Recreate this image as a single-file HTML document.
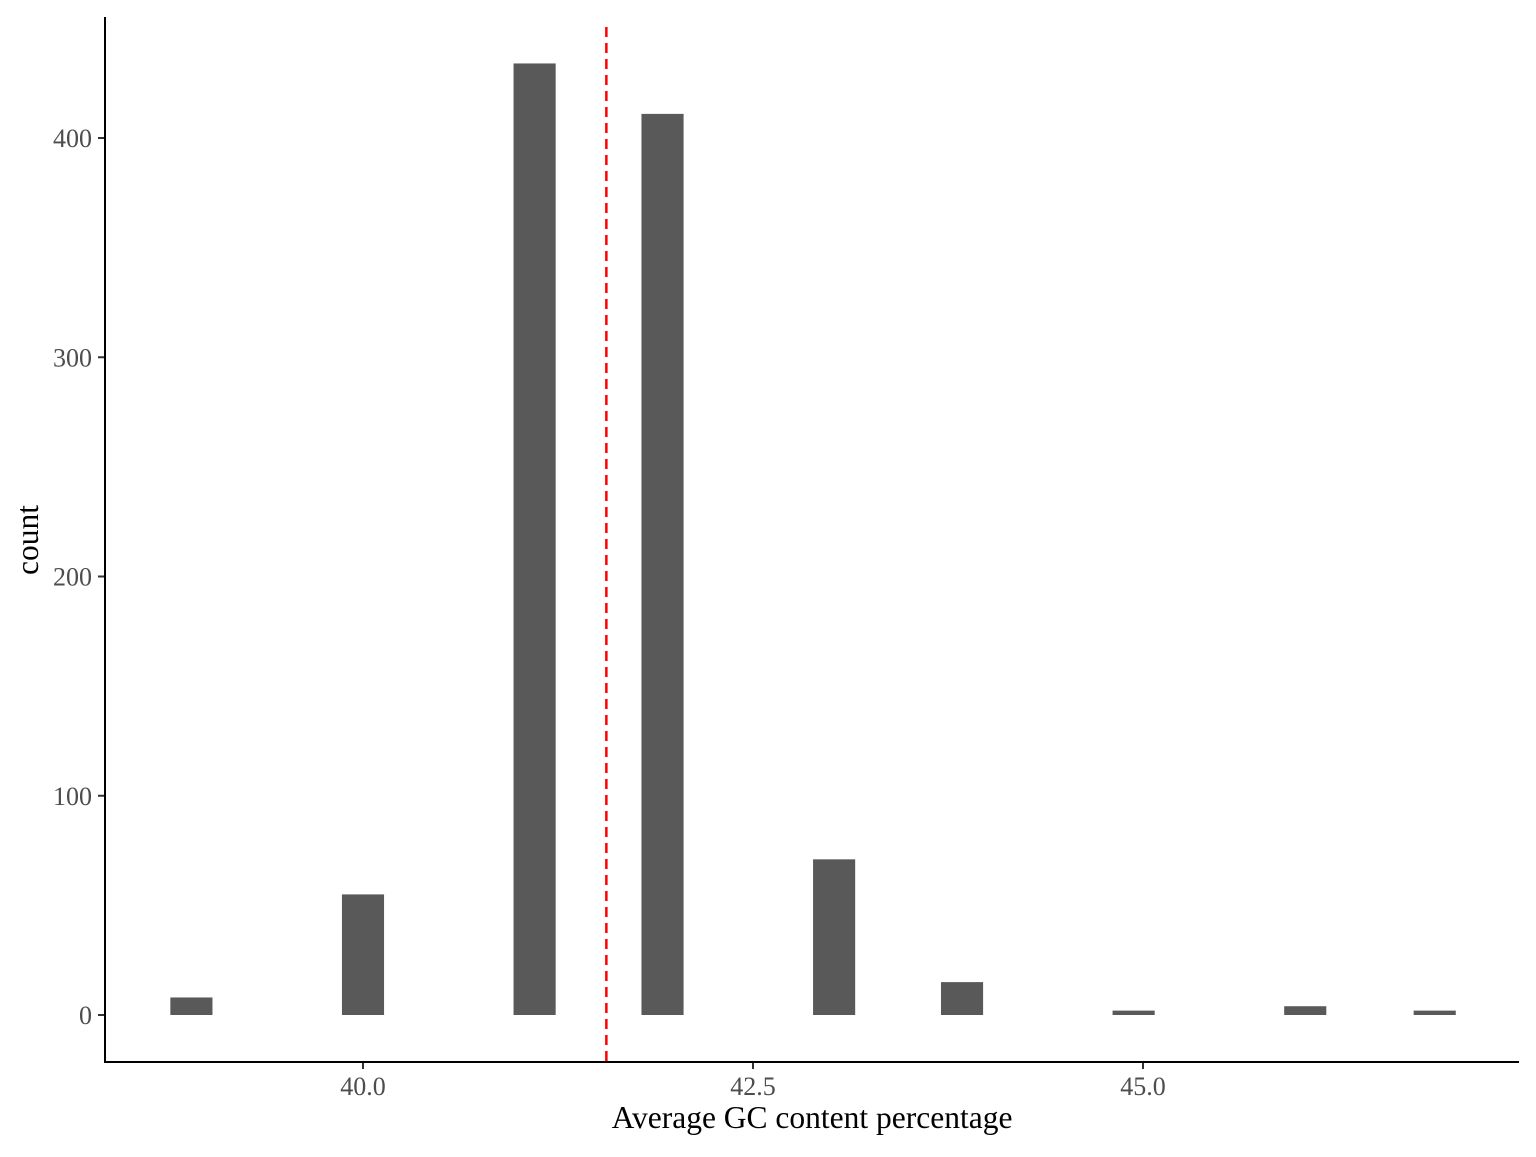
<!DOCTYPE html>
<html><head><meta charset="utf-8"><style>
html,body{margin:0;padding:0;background:#fff;}
svg text{font-family:"Liberation Serif",serif;}
</style></head><body>
<svg id="chart" width="1536" height="1152" xmlns="http://www.w3.org/2000/svg">
<g id="bars"></g>
<g id="xticks"></g>
<g id="yticks"></g>
<line x1="105" y1="17" x2="105" y2="1062" stroke="#000" stroke-width="2"/>
<line x1="104" y1="1062" x2="1519" y2="1062" stroke="#000" stroke-width="2"/>
<text x="812" y="1128" font-size="31.5" text-anchor="middle">Average GC content percentage</text>
<text transform="translate(38,540) rotate(-90)" font-size="31.5" text-anchor="middle">count</text>
</svg>
<script>
const binCenters = [38.9, 40.0, 41.1, 41.92, 43.02, 43.84, 44.94, 46.04, 46.87];
const counts = [8, 55, 434, 411, 71, 15, 2, 4, 2];
const xTickValues = [40.0, 42.5, 45.0];
const xTickLabels = ["40.0", "42.5", "45.0"];
const yTickValues = [0, 100, 200, 300, 400];
const meanValue = 41.56;
const binWidth = 0.27;

const NS = "http://www.w3.org/2000/svg";
function xs(v){ return 363 + (v - 40) * 156; }
function ys(v){ return 1015 - v * 2.1925; }
function mk(tag, attrs, parent){
  const e = document.createElementNS(NS, tag);
  for (const k in attrs) e.setAttribute(k, attrs[k]);
  parent.appendChild(e);
  return e;
}
const bars = document.getElementById('bars');
binCenters.forEach((c, i) => {
  const x0 = xs(c - binWidth/2), x1 = xs(c + binWidth/2);
  const r = mk('rect', {x: x0, y: ys(counts[i]), width: x1 - x0, height: ys(0) - ys(counts[i]), fill: '#595959'}, bars);
  
  
});
const svg = document.getElementById('chart');
const ml = mk('line', {x1: xs(meanValue), x2: xs(meanValue), y1: 27, y2: 1062, stroke: '#ff0000', 'stroke-width': 2.5, 'stroke-dasharray': '10,6'}, svg);


const xt = document.getElementById('xticks');
xTickValues.forEach((v, i) => {
  mk('line', {x1: xs(v), x2: xs(v), y1: 1062, y2: 1069, stroke: '#333', 'stroke-width': 2}, xt);
  const t = mk('text', {x: xs(v), y: 1095, 'font-size': 26, fill: '#4d4d4d', 'text-anchor': 'middle'}, xt);
  t.textContent = xTickLabels[i];
  
  
});
const yt = document.getElementById('yticks');
yTickValues.forEach(v => {
  mk('line', {x1: 98, x2: 105, y1: ys(v), y2: ys(v), stroke: '#333', 'stroke-width': 2}, yt);
  const t = mk('text', {x: 92, y: ys(v) + 9, 'font-size': 26, fill: '#4d4d4d', 'text-anchor': 'end'}, yt);
  t.textContent = String(v);
  
  
});
</script>
</body></html>
